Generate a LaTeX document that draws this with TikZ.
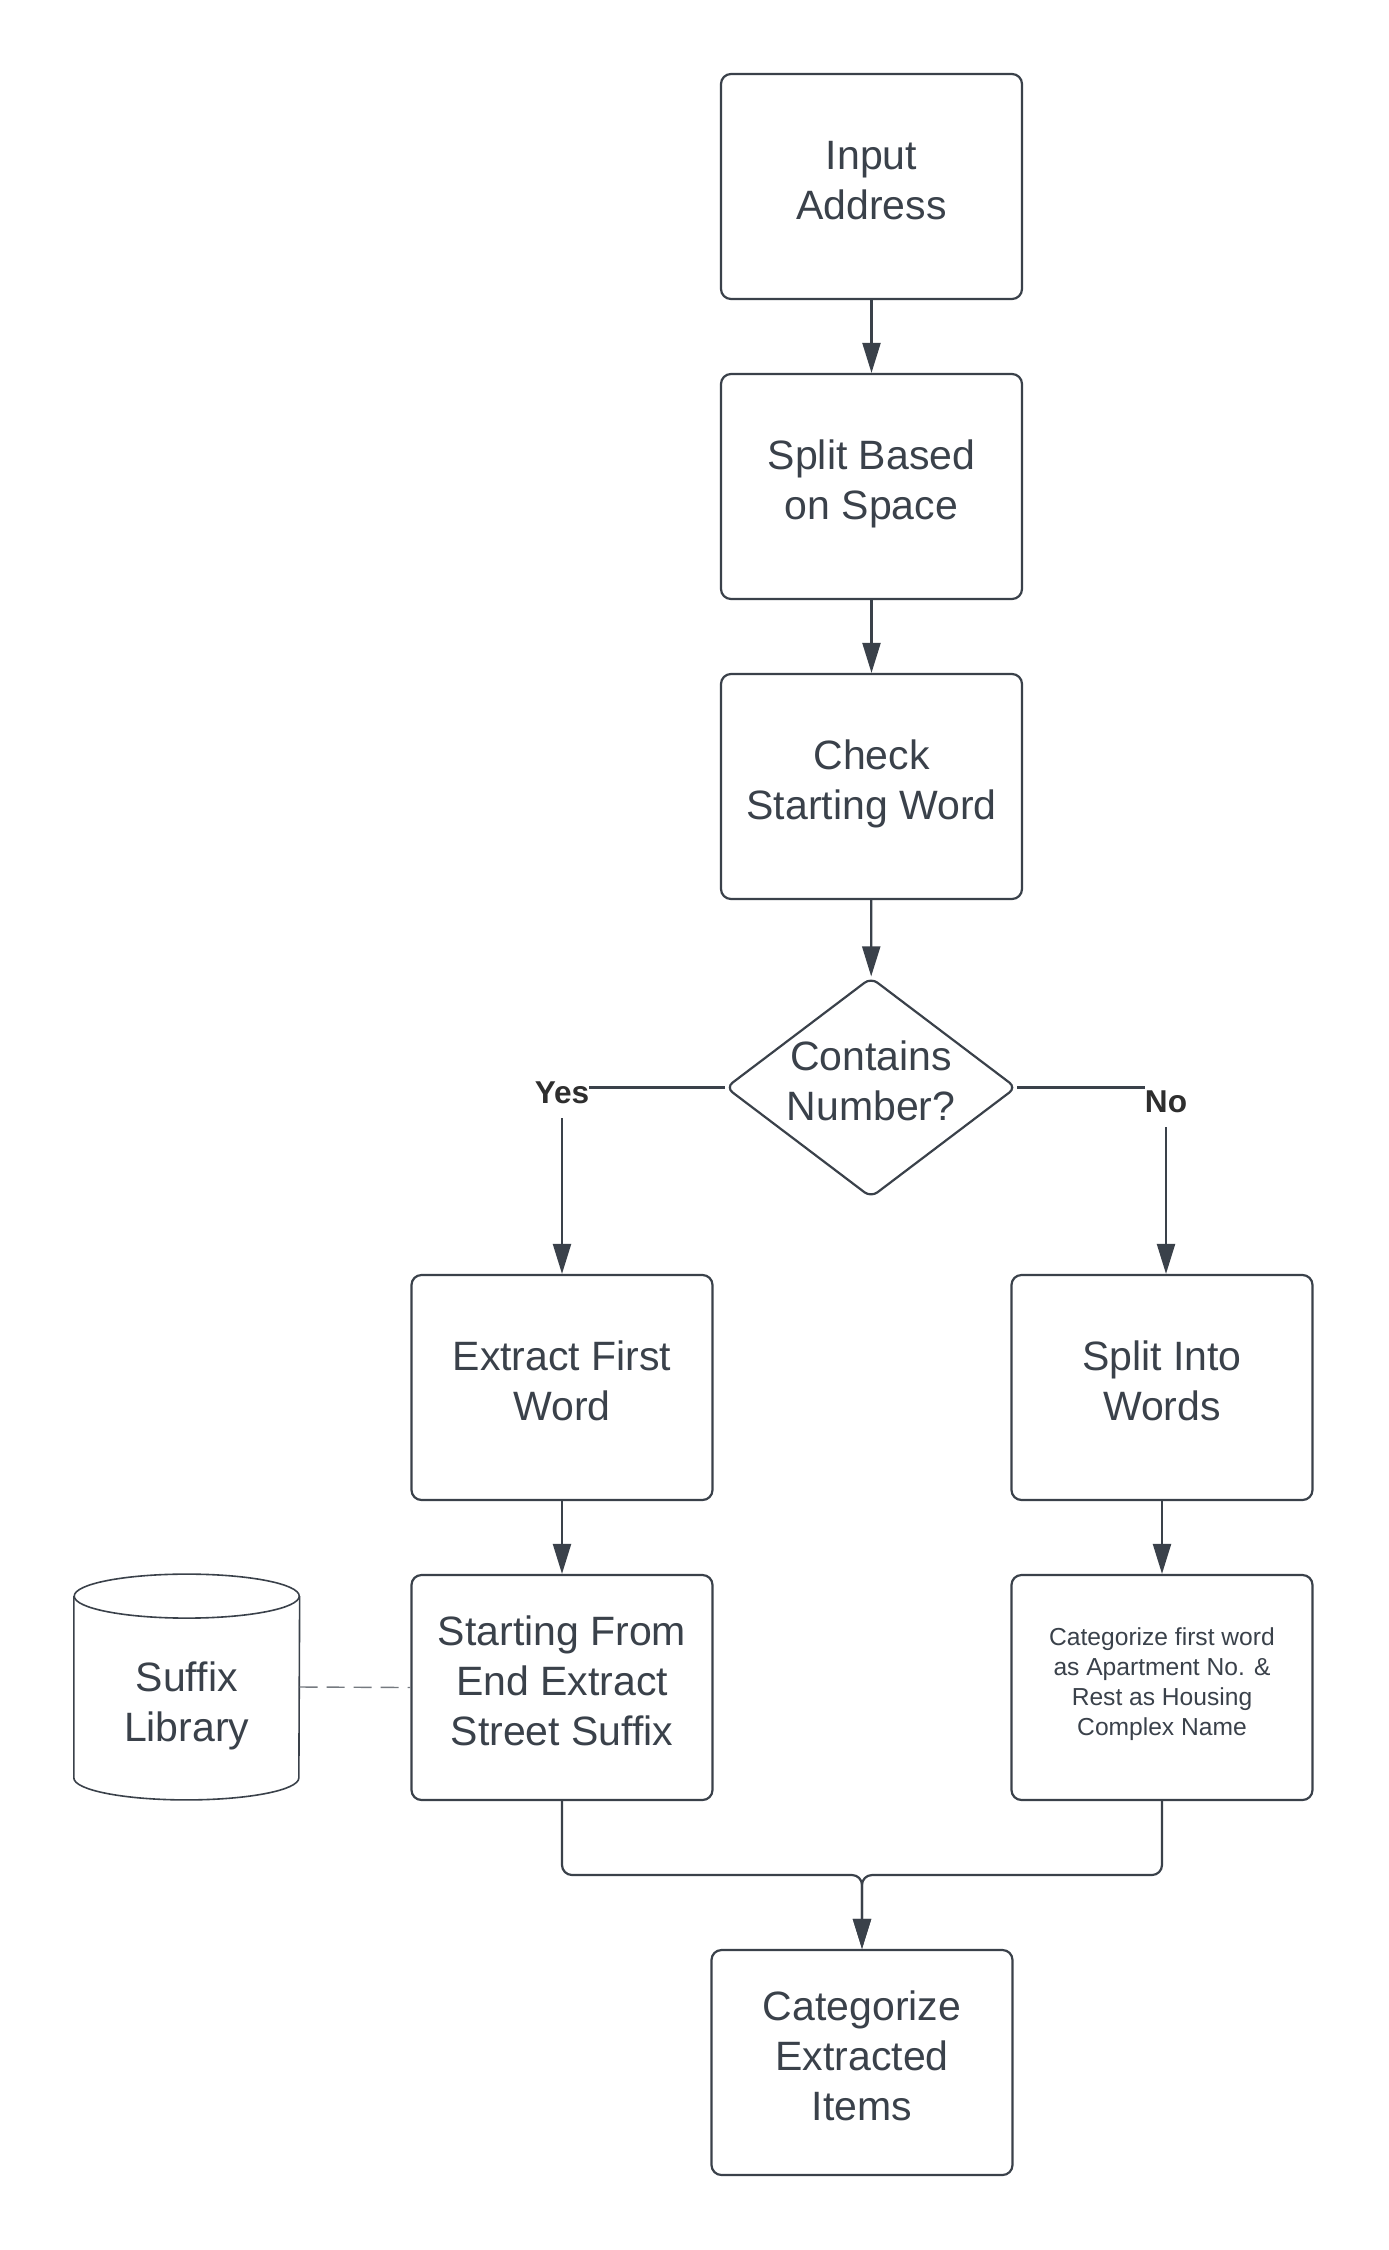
\documentclass[tikz,border=0pt]{standalone}
\usepackage{fontspec}
\setmainfont{Liberation Sans}
\usetikzlibrary{arrows.meta,shapes.geometric}
\definecolor{ink}{HTML}{3A414A}
\definecolor{lblc}{HTML}{2E2E2E}
\newcommand{\bigstrutx}{\rule[-6.4pt]{0pt}{22.8pt}}
\newcommand{\smallstrutx}{\rule[-6.3pt]{0pt}{15.7pt}}
\begin{document}
\begin{tikzpicture}[x=0.5pt,y=-0.5pt,
  bigfont/.style={font=\fontsize{20.5pt}{25pt}\selectfont,
    execute at begin node=\bigstrutx, execute at end node=\bigstrutx},
  smallfont/.style={font=\fontsize{12.3pt}{15pt}\selectfont,
    execute at begin node=\smallstrutx, execute at end node=\smallstrutx},
  box/.style={draw=ink, line width=1.1pt, rounded corners=5pt,
    minimum width=150.5pt, minimum height=112.5pt, inner sep=0pt,
    align=center, text=ink, bigfont},
  decision/.style={diamond, aspect=1.32, draw=ink, line width=1.1pt, rounded corners=4pt,
    minimum width=145pt, minimum height=109.5pt, inner sep=0pt,
    align=center, text=ink, bigfont},
  conn/.style={draw=ink, line width=1.1pt, -{Triangle[length=15pt,width=9pt]}},
  cylline/.style={draw=ink, line width=0.8pt},
  dashline/.style={draw=ink!70, line width=0.7pt, dash pattern=on 9pt off 4.5pt},
  lab/.style={fill=white, inner xsep=0pt, inner ysep=0pt, minimum height=25pt,
    text=lblc, font=\fontsize{15.8pt}{18pt}\selectfont\bfseries}
]
\useasboundingbox (0,0) rectangle (1388,2250);

\node[box] (inp) at (871.5,186.5) {Input\\Address};
\node[box] (spl) at (871.5,486.5) {Split Based\\on Space};
\node[box] (chk) at (871.5,786.5) {Check\\Starting Word};
\node[decision] (dia) at (871,1087.5) {Contains\\Number?};
\node[box] (ext) at (562,1387.5) {Extract First\\Word};
\node[box] (spw) at (1162,1387.5) {Split Into\\Words};
\node[box] (sfx) at (562,1687.5) {Starting From\\End Extract\\Street Suffix};
\node[box, smallfont] (cat) at (1162,1687.5) {Categorize first word\\as Apartment No. \&\\Rest as Housing\\Complex Name};
\node[box] (fin) at (862,2062.5) {Categorize\\Extracted\\Items};

\node[minimum width=112.5pt, minimum height=112.5pt, inner sep=0pt,
  label={[align=center, text=ink, bigfont, inner sep=0pt, yshift=-10.6pt]center:Suffix\\Library}] (lib) at (186.75,1687) {};
\draw[cylline] ([yshift=-11pt]lib.north west) -- ([yshift=11pt]lib.south west)
  arc[start angle=180, end angle=360, x radius=56.25pt, y radius=11pt]
  -- ([yshift=-11pt]lib.north east);
\draw[cylline] ([yshift=-11pt]lib.north) ellipse[x radius=56.25pt, y radius=11pt];

\coordinate (m) at (862,1875);

\draw[conn] (inp) -- (spl);
\draw[conn] (spl) -- (chk);
\draw[conn] (chk) -- (dia);
\draw[conn] (dia.west) -| node[lab, pos=0.5, yshift=-2.5pt] {Yes} (ext.north);
\draw[conn] (dia.east) -| node[lab, pos=0.5, yshift=-7pt] {No} ([xshift=2pt]spw.north);
\draw[conn] (ext) -- (sfx);
\draw[conn] (spw) -- (cat);
\draw[dashline] (lib.east) -- (sfx.west);
\draw[conn, rounded corners=5pt] (sfx.south) |- (m) -- (fin.north);
\draw[conn, rounded corners=5pt] (cat.south) |- (m) -- (fin.north);
\end{tikzpicture}
\end{document}
